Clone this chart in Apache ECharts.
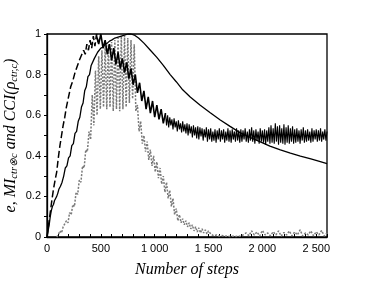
<!DOCTYPE html>
<html><head><meta charset="utf-8">
<script src="https://cdn.jsdelivr.net/npm/echarts@6/dist/echarts.min.js"></script>
<style>html,body{margin:0;padding:0;background:#fff}#c{width:374px;height:282px}</style>
</head><body><div id="c"></div>
<script>
// x tick labels
const xTickLabels = ['0', '500', '1 000', '1 500', '2 000', '2 500'];
const yTickLabels = ['0', '0.2', '0.4', '0.6', '0.8', '1'];

// e (solid black)
const eSteps = [0,10,20,30,40,50,60,70,80,90,100,110,125,140,155,170,185,200,215,230,245,260,275,290,305,320,335,350,365,380,395,410,425,440,455,470,485,500,520,540,560,580,600,630,660,690,720,750,780,810,850,900,960,1020,1080,1144,1200,1260,1330,1420,1516,1609,1700,1795,1890,1981,2070,2167,2260,2353,2450,2530,2600];
const eValues = [0,0.03,0.06,0.10,0.13,0.15,0.16,0.18,0.19,0.20,0.215,0.235,0.25,0.27,0.30,0.34,0.35,0.39,0.40,0.45,0.46,0.51,0.52,0.57,0.59,0.64,0.66,0.72,0.74,0.79,0.80,0.845,0.85,0.88,0.885,0.91,0.915,0.93,0.935,0.95,0.955,0.965,0.97,0.98,0.985,0.99,0.995,1.0,1.0,0.995,0.98,0.955,0.92,0.885,0.845,0.80,0.765,0.725,0.69,0.65,0.612,0.576,0.545,0.513,0.49,0.469,0.448,0.429,0.413,0.399,0.385,0.373,0.362];

// MI rising part (dashed)
const miRiseSteps = [0,15,30,45,60,75,90,105,120,135,150,165,180,200,220,240,260,280,300,320,340,355,370,385,400,415,430,445,460,475];
const miRiseValues = [0,0.06,0.12,0.18,0.235,0.28,0.32,0.39,0.45,0.50,0.55,0.59,0.64,0.69,0.74,0.77,0.81,0.84,0.87,0.895,0.92,0.90,0.95,0.92,0.97,0.93,0.99,0.94,1.0,0.96];

// MI noisy part A (460..1100 every 20 steps)
const miNoisyAStart = 460, miNoisyAStep = 20;
const miNoisyAValues = [
  0.99,0.95,1.0,0.93,0.97,0.90,0.95,0.87,0.93,0.85,
  0.91,0.83,0.88,0.81,0.86,0.78,0.83,0.75,0.80,0.71,
  0.76,0.67,0.72,0.63,0.69,0.61,0.67,0.59,0.65,0.58,
  0.63,0.56,0.61
];
// MI noisy part B (1110..2600 every 10 steps)
const miNoisyBStart = 1110, miNoisyBStep = 10;
const miNoisyBValues = [
  0.55,0.60,0.54,0.59,0.55,0.58,0.53,0.585,0.54,0.57,
  0.52,0.575,0.53,0.56,0.515,0.57,0.52,0.555,0.51,0.56,
  0.50,0.555,0.51,0.545,0.49,0.55,0.50,0.54,0.485,0.545,
  0.48,0.54,0.495,0.535,0.475,0.53,0.49,0.54,0.47,0.53,
  0.48,0.535,0.47,0.52,0.475,0.53,0.465,0.525,0.48,0.535,
  0.47,0.525,0.48,0.53,0.465,0.52,0.475,0.535,0.47,0.525,
  0.465,0.53,0.48,0.52,0.47,0.535,0.475,0.525,0.465,0.53,
  0.47,0.525,0.48,0.535,0.47,0.52,0.465,0.53,0.475,0.54,
  0.47,0.525,0.46,0.53,0.475,0.52,0.46,0.535,0.47,0.525,
  0.465,0.53,0.455,0.525,0.47,0.54,0.46,0.55,0.465,0.535,
  0.46,0.56,0.47,0.545,0.455,0.55,0.465,0.535,0.46,0.555,
  0.455,0.54,0.465,0.55,0.46,0.535,0.47,0.545,0.46,0.53,
  0.465,0.535,0.47,0.525,0.46,0.53,0.475,0.54,0.465,0.525,
  0.47,0.53,0.475,0.52,0.465,0.535,0.47,0.525,0.48,0.53,
  0.47,0.525,0.475,0.535,0.47,0.52,0.48,0.53,0.475,0.52
];

// CCI (gray dotted), from 90 steps every 15 steps, then tail every 25 steps
const cciStart = 90, cciStep = 15;
const cciValues = [
  0,0.01,0.03,0.02,0.05,0.045,0.08,0.07,0.12,0.11,0.16,0.15,0.22,0.21,0.28,0.27,0.35,0.34,0.43,0.42,0.52,
  0.48,0.70,0.55,0.82,0.60,0.89,0.63,0.92,0.64,0.94,0.63,0.95,0.64,0.96,0.62,0.97,0.63,0.98,0.62,0.99,0.63,0.99,0.64,0.98,0.66,0.97,0.68,0.95,
  0.62,0.65,0.52,0.57,0.46,0.50,0.42,0.47,0.38,0.43,0.35,0.40,0.32,0.37,0.29,0.34,0.26,0.30,0.22,0.27,0.19,0.23,0.15,0.19,0.11,0.14,
  0.08,0.11,0.07,0.09,0.06,0.08,0.05,0.07,0.04,0.06,0.03,0.05,0.025,0.045,0.02,0.04,0.02,0.035,0.015,0.03
];
const cciTailStart = 1525, cciTailStep = 25;
const cciTailValues = [
  0.012,0.006,0.01,0.004,0.007,0.003,0.005,0.002,0.004,0.002,0.005,0.003,
  0.012,0.02,0.006,0.03,0.01,0.025,0.005,0.032,0.01,0.02,0.006,0.026,0.01,0.03,0.005,0.022,
  0.01,0.03,0.006,0.025,0.01,0.035,0.005,0.02,0.01,0.03,0.006,0.026,0.01,0.032,0.005,0.02
];

const pairs = (xs, ys) => ys.map((v, i) => [xs[i], v]);
const regular = (start, step, ys) => ys.map((v, i) => [start + i * step, v]);

const eData = pairs(eSteps, eValues);
const miRiseData = pairs(miRiseSteps, miRiseValues);
const miNoisyAData = regular(miNoisyAStart, miNoisyAStep, miNoisyAValues);
const miNoisyBData = [miNoisyAData[miNoisyAData.length - 1]].concat(regular(miNoisyBStart, miNoisyBStep, miNoisyBValues));
const cciData = regular(cciStart, cciStep, cciValues).concat(regular(cciTailStart, cciTailStep, cciTailValues));

const serif = 'Liberation Serif';
const chart = echarts.init(document.getElementById('c'), null, {renderer: 'canvas'});
chart.setOption({
  animation: false,
  backgroundColor: '#fff',
  grid: {left: 47, right: 47, top: 34, bottom: 45, outerBoundsMode: 'none', containLabel: false,
    show: true, borderColor: '#000', borderWidth: 1.3, backgroundColor: 'transparent'},
  xAxis: {
    type: 'value', min: 0, max: 2600, interval: 500,
    axisLine: {show: true, lineStyle: {color: '#000', width: 1.3}},
    axisTick: {show: true, inside: true, length: 3, lineStyle: {color: '#000'}},
    minorTick: {show: true, splitNumber: 5, length: 3, lineStyle: {color: '#000'}},
    splitLine: {show: false},
    axisLabel: {showMaxLabel: false, margin: 6, color: '#000', fontFamily: 'Liberation Sans', fontSize: 11,
      formatter: v => xTickLabels[Math.round(v / 500)] || ''},
    name: 'Number of steps', nameLocation: 'middle', nameGap: 25, nameMoveOverlap: false,
    nameTextStyle: {fontFamily: serif, fontStyle: 'italic', fontSize: 16, color: '#000'}
  },
  yAxis: {
    type: 'value', min: 0, max: 1, interval: 0.2,
    axisLine: {show: true, lineStyle: {color: '#000', width: 1.3}},
    axisTick: {show: true, inside: false, length: 3, lineStyle: {color: '#000'}},
    minorTick: {show: true, splitNumber: 2, length: 3, lineStyle: {color: '#000'}},
    splitLine: {show: false},
    axisLabel: {margin: 6, color: '#000', fontFamily: 'Liberation Sans', fontSize: 11,
      formatter: v => yTickLabels[Math.round(v / 0.2)] || ''},
    name: '{t|e, MI}{s|ctr⊗c}{t| and CCI(ρ}{s|ctr,c}{t|)}',
    nameLocation: 'middle', nameRotate: 90, nameGap: 27, nameMoveOverlap: false,
    nameTextStyle: {
      color: '#000',
      rich: {
        t: {fontFamily: serif, fontStyle: 'italic', fontSize: 16, lineHeight: 19, color: '#000'},
        s: {fontFamily: serif, fontStyle: 'italic', fontSize: 10.5, lineHeight: 10, verticalAlign: 'bottom', color: '#000'}
      }
    }
  },
  series: [
    {name: 'CCI', type: 'line', data: cciData, showSymbol: false, z: 1,
      lineStyle: {color: '#7a7a7a', width: 1.5, type: [2, 1.5]}},
    {name: 'e', type: 'line', data: eData, showSymbol: false, z: 3,
      lineStyle: {color: '#000', width: 1.3}},
    {name: 'MI rise', type: 'line', data: miRiseData, showSymbol: false, z: 3,
      lineStyle: {color: '#000', width: 1.5, type: [7, 3]}},
    {name: 'MI', type: 'line', data: miNoisyAData, showSymbol: false, z: 3,
      lineStyle: {color: '#000', width: 1.6}},
    {name: 'MI tail', type: 'line', data: miNoisyBData, showSymbol: false, z: 3,
      lineStyle: {color: '#000', width: 1.1}}
  ]
});
</script>
</body></html>
